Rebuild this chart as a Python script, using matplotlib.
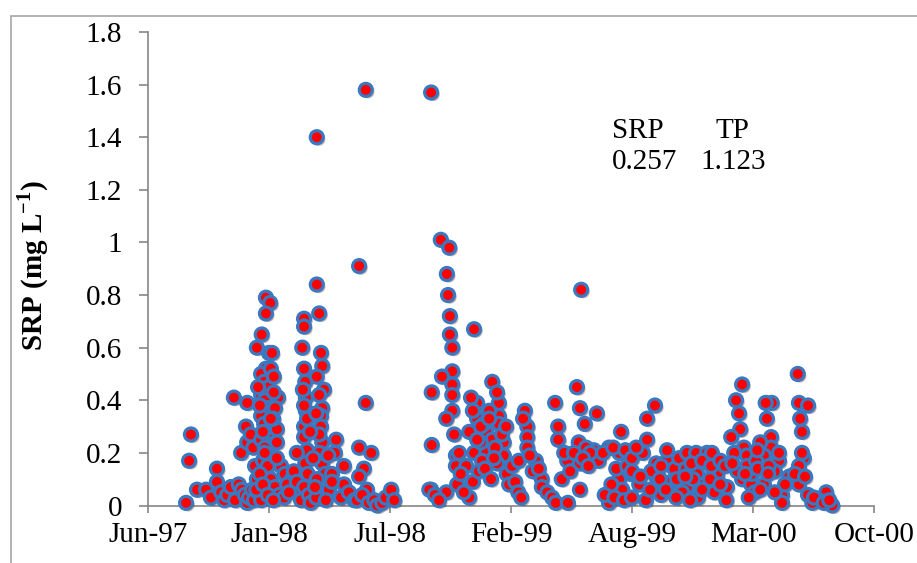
import matplotlib
matplotlib.use("Agg")
import matplotlib.pyplot as plt
import matplotlib.patheffects as pe
from matplotlib.patches import Rectangle

# days counted from the start of the axis (Jun-97), ticks every 200 days
tick_days = [0, 200, 400, 600, 800, 1000, 1200]
tick_labels = ['Jun-97', 'Jan-98', 'Jul-98', 'Feb-99', 'Aug-99', 'Mar-00', 'Oct-00']

# SRP samples (mg/L)
days = [
    # Jun-97 .. Dec-97
    63, 68, 71, 81, 96, 104, 114, 114, 121, 126, 131, 137, 144, 150, 155, 160,
    164, 167, 172, 175, 182, 187, 142, 164, 154, 164, 162, 170, 174, 177, 180,
    # Jan-98 column
    195, 202, 195, 188, 180, 200, 195, 187, 192, 200, 187, 193, 197, 187, 192,
    200, 187, 193, 200, 190, 195, 203, 210, 217, 203, 205, 208, 215, 210, 213,
    213, 207, 220, 226, 238, 245, 253, 230, 225, 233, 241, 246, 258, 266, 269, 278,
    182, 185, 190, 193, 198, 203, 208, 213, 185, 179, 190, 198, 207,
    # Mar-98 .. May-98
    258, 283, 258, 279, 279, 258, 260, 261, 261, 258, 258, 263, 246, 256, 263,
    260, 264, 288, 279, 291, 288, 286, 286, 288, 288, 283, 283, 293, 279, 311,
    309, 324, 304, 324, 319, 332, 341, 299, 294,
    255, 258, 268, 273, 278, 283, 286, 276, 298, 304,
    # Jun-98 .. Jul-98
    349, 360, 360, 349, 369, 357, 349, 362, 345, 354, 365, 374, 379, 387, 393,
    402, 407,
    # Sep-98 .. Nov-98
    468, 484, 498, 494, 496, 499, 499, 503, 503, 486, 503, 469, 503, 503, 493,
    469, 468, 493, 465, 474, 481, 539, 509, 509, 526, 511, 537, 531, 517, 522,
    506, 514,
    # Dec-98 .. Feb-99
    569, 544, 580, 577, 580, 580, 534, 544, 531, 559, 588, 588, 539, 559, 593,
    552, 569, 564, 555, 550, 574, 577, 547, 597, 602, 607, 612, 617,
    537, 544, 550, 564, 572, 585, 592, 557, 567,
    623, 627, 627, 627, 620, 641, 613, 651, 651, 631, 636, 646, 660, 668, 674,
    # Mar-99 .. Jul-99
    716, 709, 673, 714, 742, 678, 722, 782, 678, 712, 693, 714, 745, 762, 779,
    737, 684, 714, 694, 798, 779, 784, 798, 762, 688, 698, 704, 724, 731, 752,
    769, 789, 774, 766, 755, 771, 792, 787, 719, 728,
    # Aug-99 .. Jan-00
    838, 825, 825, 800, 800, 840, 840, 840, 858, 858, 823, 800, 812, 818, 832,
    848, 865, 870, 878, 891, 906, 924, 889, 908, 909, 891, 941, 957, 956, 874,
    883, 898, 916, 932, 931, 919, 936, 946, 901, 848, 807, 814,
    846, 856, 873, 888, 916, 929, 946, 954, 896, 830,
    # Feb-00 .. Jun-00
    982, 972, 977, 979, 964, 985, 969, 990, 990, 982, 974, 966, 997, 1003, 993,
    1031, 1021, 1023, 1030, 1030, 1018, 1043, 1005, 998, 1018, 1048, 1048, 1060,
    1008, 1036, 1026, 1053, 1012, 1007,
    987, 1012, 1036, 1043, 1025,
    # Jul-00 .. Sep-00
    1074, 1076, 1091, 1078, 1081, 1084, 1076, 1076, 1091, 1121, 1131, 1109, 1098,
    1069, 1086, 1081, 1101, 1117, 1126,
]
srp = [
    0.01, 0.17, 0.27, 0.06, 0.06, 0.03, 0.14, 0.09, 0.05, 0.02, 0.04, 0.07, 0.02, 0.08, 0.06, 0.04,
    0.01, 0.03, 0.06, 0.02, 0.05, 0.02, 0.41, 0.39, 0.20, 0.24, 0.30, 0.27, 0.22, 0.15, 0.10,
    0.79, 0.77, 0.73, 0.65, 0.60, 0.58, 0.52, 0.50, 0.47, 0.45, 0.42, 0.40, 0.37, 0.34, 0.31,
    0.28, 0.25, 0.22, 0.19, 0.17, 0.13, 0.10, 0.07, 0.04, 0.52, 0.58, 0.49, 0.41, 0.37, 0.29,
    0.24, 0.33, 0.15, 0.12, 0.10, 0.06, 0.02, 0.08, 0.03, 0.05, 0.13, 0.09, 0.07, 0.04, 0.01, 0.03,
    0.45, 0.38, 0.28, 0.20, 0.15, 0.33, 0.43, 0.18, 0.12, 0.06, 0.08, 0.04, 0.02,
    0.71, 0.73, 0.68, 0.84, 1.40, 0.52, 0.47, 0.41, 0.36, 0.30, 0.26, 0.21, 0.20, 0.44, 0.33,
    0.16, 0.12, 0.53, 0.49, 0.44, 0.37, 0.34, 0.30, 0.24, 0.16, 0.20, 0.27, 0.12, 0.10, 0.25,
    0.20, 0.15, 0.12, 0.08, 0.03, 0.05, 0.02, 0.06, 0.02,
    0.60, 0.38, 0.28, 0.18, 0.35, 0.42, 0.58, 0.07, 0.19, 0.09,
    0.91, 1.58, 0.39, 0.22, 0.20, 0.14, 0.11, 0.06, 0.02, 0.04, 0.01, 0.02, 0.00, 0.01, 0.03,
    0.06, 0.02,
    1.57, 1.01, 0.98, 0.88, 0.80, 0.72, 0.65, 0.60, 0.51, 0.49, 0.46, 0.43, 0.42, 0.36, 0.33,
    0.23, 0.06, 0.05, 0.06, 0.04, 0.02, 0.67, 0.19, 0.15, 0.15, 0.08, 0.09, 0.03, 0.12, 0.05,
    0.27, 0.20,
    0.47, 0.39, 0.39, 0.43, 0.34, 0.31, 0.41, 0.33, 0.28, 0.28, 0.24, 0.19, 0.20, 0.20, 0.12,
    0.17, 0.25, 0.36, 0.31, 0.24, 0.22, 0.16, 0.13, 0.08, 0.15, 0.09, 0.05, 0.03,
    0.36, 0.25, 0.30, 0.33, 0.18, 0.27, 0.30, 0.14, 0.10,
    0.36, 0.30, 0.26, 0.22, 0.33, 0.17, 0.17, 0.10, 0.07, 0.19, 0.13, 0.14, 0.05, 0.03, 0.01,
    0.82, 0.45, 0.39, 0.37, 0.35, 0.30, 0.31, 0.28, 0.25, 0.24, 0.17, 0.16, 0.17, 0.22, 0.20,
    0.21, 0.10, 0.06, 0.01, 0.18, 0.10, 0.06, 0.12, 0.01, 0.20, 0.13, 0.20, 0.22, 0.20, 0.20,
    0.22, 0.21, 0.14, 0.08, 0.04, 0.03, 0.15, 0.02, 0.18, 0.15,
    0.38, 0.33, 0.25, 0.18, 0.13, 0.16, 0.11, 0.07, 0.17, 0.21, 0.02, 0.03, 0.08, 0.20, 0.13,
    0.04, 0.09, 0.14, 0.18, 0.20, 0.20, 0.20, 0.14, 0.12, 0.03, 0.07, 0.12, 0.07, 0.02, 0.10,
    0.05, 0.16, 0.17, 0.20, 0.15, 0.08, 0.05, 0.17, 0.10, 0.15, 0.22, 0.11,
    0.10, 0.06, 0.03, 0.11, 0.06, 0.10, 0.08, 0.15, 0.02, 0.06,
    0.46, 0.40, 0.35, 0.29, 0.26, 0.22, 0.20, 0.19, 0.15, 0.10, 0.13, 0.16, 0.08, 0.05, 0.03,
    0.39, 0.39, 0.33, 0.26, 0.22, 0.19, 0.17, 0.17, 0.12, 0.08, 0.04, 0.01, 0.11,
    0.14, 0.13, 0.15, 0.08, 0.24, 0.21,
    0.12, 0.06, 0.05, 0.20, 0.12,
    0.50, 0.39, 0.38, 0.33, 0.28, 0.18, 0.15, 0.08, 0.04, 0.05, 0.00, 0.02, 0.01,
    0.12, 0.11, 0.20, 0.03, 0.01, 0.02,
]

# means of SRP and TP printed on the chart
labels_mean = ['SRP', 'TP']
values_mean = [0.257, 1.123]

plt.rcParams['font.family'] = ['Liberation Serif', 'DejaVu Serif']
fs = 21

W, H = 917, 563
fig = plt.figure(figsize=(W / 100, H / 100), dpi=100)
ax = fig.add_axes([148 / W, 1 - 505.5 / H, (874 - 148) / W, (505.5 - 32) / H])

ax.scatter(days, srp, s=88, c='#ff0000', edgecolors='#3a78c0', linewidths=2.3,
           zorder=3, clip_on=False,
           path_effects=[pe.SimplePatchShadow(offset=(1.5, -1.5), alpha=0.3),
                         pe.Normal()])

ax.set_xlim(0, 1200)
ax.set_ylim(0, 1.8)
ax.set_xticks(tick_days)
ax.set_xticklabels(tick_labels)
ax.set_yticks([0, 0.2, 0.4, 0.6, 0.8, 1.0, 1.2, 1.4, 1.6, 1.8])
ax.set_yticklabels(['0', '0.2', '0.4', '0.6', '0.8', '1', '1.2', '1.4', '1.6', '1.8'])

for side in ['top', 'right']:
    ax.spines[side].set_visible(False)
for side in ['left', 'bottom']:
    ax.spines[side].set_color('#868686')
    ax.spines[side].set_linewidth(1.2)
ax.tick_params(axis='both', colors='#868686', labelcolor='black', labelsize=fs, width=1.2)
ax.tick_params(axis='y', length=6.5, pad=12)
ax.tick_params(axis='x', length=5, pad=7)

fig.text(33 / W, 1 - 266 / H, 'SRP (mg L$^{\\mathregular{-1}}$)', rotation=90,
         ha='center', va='center', fontsize=fs, fontweight='bold')

fig.text(612 / W, 1 - 131 / H, labels_mean[0], fontsize=fs, va='center')
fig.text(716 / W, 1 - 131 / H, labels_mean[1], fontsize=fs, va='center')
fig.text(612 / W, 1 - 162 / H, '{:.3f}'.format(values_mean[0]), fontsize=fs, va='center')
fig.text(700 / W, 1 - 162 / H, '{:.3f}'.format(values_mean[1]), fontsize=fs, va='center')

# outer chart frame (cut at the right and bottom)
fig.patches.append(Rectangle((11 / W, -0.1), 1.2, 1 - 16 / H + 0.1, transform=fig.transFigure,
                             fill=False, edgecolor='#a6a6a6', linewidth=1.2))

fig.savefig('out.png', dpi=100)
